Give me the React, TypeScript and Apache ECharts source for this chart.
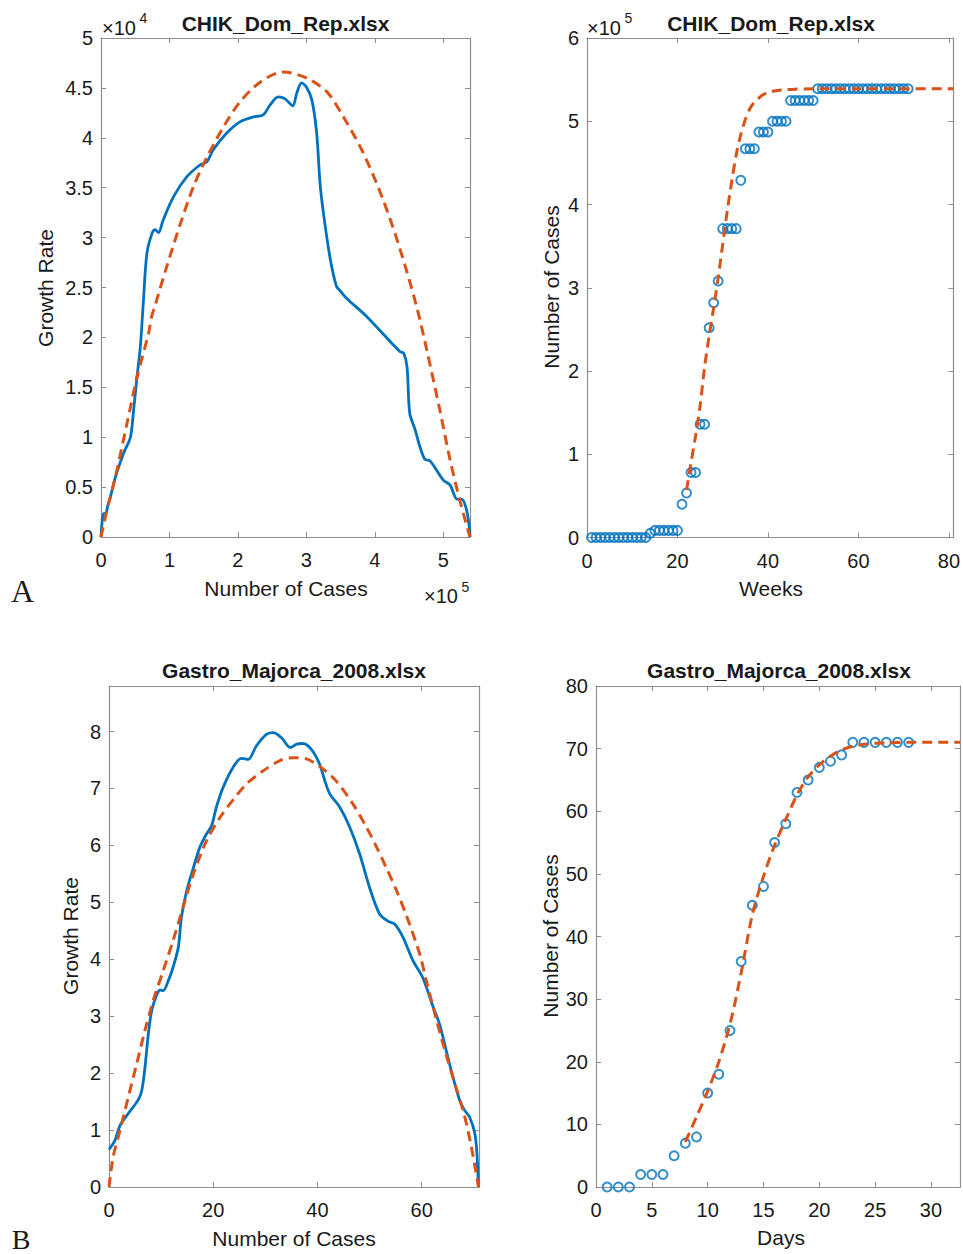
import React, { useEffect, useRef } from 'react';
import * as echarts from 'echarts';

// ---- Panel A (left): growth rate vs cumulative cases, CHIK Dominican Republic ----
const chikObsCases = [0, 2000, 4000, 7500, 10000, 13600, 21000, 33000, 43000, 47600, 52500, 57400, 62000, 67000, 74400, 79000, 84000, 91000, 106000, 125500, 145000, 154700, 164000, 184000, 203000, 223000, 237000, 247000, 259000, 269000, 280000, 286000, 293000, 300000, 308000, 315000, 320000, 325000, 335000, 344000, 349000, 359000, 388000, 437000, 442000, 447000, 451000, 459000, 466000, 473000, 481000, 500000, 510000, 520000, 527000, 534000, 538000, 539000];
const chikObsRate = [0, 1800, 2350, 2400, 3200, 4000, 6000, 8400, 10000, 12700, 16000, 19000, 23700, 28400, 30400, 30800, 30500, 31800, 34100, 36100, 37300, 37600, 38800, 40500, 41600, 42100, 42300, 43300, 44100, 43900, 43200, 44500, 45500, 45100, 43800, 40500, 35400, 32400, 27800, 25100, 24700, 23900, 22100, 18550, 18450, 17050, 12400, 10700, 9000, 7800, 7600, 5700, 5200, 3800, 3800, 2700, 1000, 0];
const chikFitCases = [0, 8800, 21000, 38000, 52500, 69500, 74000, 79000, 96000, 116000, 135000, 155000, 179000, 203000, 233000, 266000, 300000, 330000, 354000, 383000, 412000, 437000, 461000, 476000, 495000, 510000, 524000, 539000];
const chikFitRate = [0, 2700, 6000, 11400, 16000, 20400, 22100, 23200, 27100, 31400, 35100, 38100, 41100, 43600, 45600, 46600, 46000, 44600, 42100, 38500, 33800, 28800, 23100, 18700, 12700, 7700, 3700, 0];

// ---- Panel A (right): cumulative cases by week ----
const chikWeeks = [1, 2, 3, 4, 5, 6, 7, 8, 9, 10, 11, 12, 13, 14, 15, 16, 17, 18, 19, 20, 21, 22, 23, 24, 25, 26, 27, 28, 29, 30, 31, 32, 33, 34, 35, 36, 37, 38, 39, 40, 41, 42, 43, 44, 45, 46, 47, 48, 49, 50, 51, 52, 53, 54, 55, 56, 57, 58, 59, 60, 61, 62, 63, 64, 65, 66, 67, 68, 69, 70, 71];
const chikWeeklyCases = [0, 0, 0, 0, 0, 0, 0, 0, 0, 0, 0, 0, 0, 5000, 8500, 8500, 8500, 8500, 8500, 8500, 40000, 53500, 78000, 78000, 136000, 136000, 252000, 282000, 308000, 371000, 371000, 371000, 371000, 429000, 467000, 467000, 467000, 487000, 487000, 487000, 500000, 500000, 500000, 500000, 525000, 525000, 525000, 525000, 525000, 525000, 539000, 539000, 539000, 539000, 539000, 539000, 539000, 539000, 539000, 539000, 539000, 539000, 539000, 539000, 539000, 539000, 539000, 539000, 539000, 539000, 539000];
const chikFitWeeks = [22, 23, 24, 25, 26, 27, 28, 29, 30, 31, 32, 33, 34, 35, 36, 37, 38, 39, 40, 41, 42, 44, 46, 50, 60, 70, 81];
const chikFitWeekly = [57000, 90000, 122000, 158000, 205000, 242000, 276000, 312000, 352000, 392000, 428000, 460000, 484000, 502000, 515000, 523000, 528000, 532000, 535000, 536000, 537000, 538000, 538500, 539000, 539000, 539000, 539000];

// ---- Panel B (left): growth rate vs cumulative cases, Gastro Majorca 2008 ----
const gastroObsCases = [0, 1.15, 2.1, 3.7, 5.6, 6.3, 6.9, 7.55, 8.2, 9.1, 9.8, 10.4, 11.4, 12.3, 13.3, 13.9, 14.9, 16.2, 17.4, 18.7, 19.7, 20.6, 21.9, 23.8, 25.4, 26.7, 28.3, 30.2, 31.5, 33.1, 34.8, 36.0, 37.2, 38.8, 40.4, 41.4, 42.4, 44.3, 46.2, 48.1, 50.0, 51.9, 53.5, 54.8, 56.4, 58.3, 60.2, 62.2, 63.4, 64.7, 66.0, 67.3, 68.2, 69.2, 70.2, 70.6, 70.9];
const gastroObsRate = [0.66, 0.82, 1.08, 1.29, 1.53, 1.70, 2.1, 2.69, 3.1, 3.36, 3.46, 3.45, 3.63, 3.86, 4.21, 4.74, 5.2, 5.61, 5.96, 6.2, 6.35, 6.67, 7.02, 7.37, 7.53, 7.51, 7.75, 7.95, 7.98, 7.89, 7.72, 7.78, 7.79, 7.69, 7.43, 7.14, 6.90, 6.67, 6.32, 5.85, 5.26, 4.80, 4.67, 4.62, 4.39, 3.98, 3.68, 3.16, 2.87, 2.40, 1.93, 1.52, 1.35, 1.23, 0.94, 0.59, 0];
const gastroFitCases = [0, 0.8, 2.1, 3.7, 5.3, 6.9, 8.5, 10.4, 12.3, 14.2, 16.2, 18.7, 21.3, 23.8, 26.4, 29.6, 32.8, 35.3, 37.9, 41.1, 43.7, 46.8, 49.4, 51.3, 53.2, 55.2, 57.1, 59.6, 60.9, 62.8, 64.7, 66.7, 68.2, 69.5, 70.9];
const gastroFitRate = [0, 0.53, 0.99, 1.58, 2.16, 2.75, 3.28, 3.80, 4.33, 4.91, 5.50, 6.08, 6.49, 6.80, 7.08, 7.31, 7.49, 7.54, 7.52, 7.34, 7.12, 6.73, 6.32, 5.98, 5.61, 5.20, 4.76, 4.10, 3.62, 2.95, 2.32, 1.72, 1.26, 0.72, 0];

// ---- Panel B (right): cumulative cases by day ----
const gastroDays = [1, 2, 3, 4, 5, 6, 7, 8, 9, 10, 11, 12, 13, 14, 15, 16, 17, 18, 19, 20, 21, 22, 23, 24, 25, 26, 27, 28];
const gastroDailyCases = [0, 0, 0, 2, 2, 2, 5, 7, 8, 15, 18, 25, 36, 45, 48, 55, 58, 63, 65, 67, 68, 69, 71, 71, 71, 71, 71, 71];
const gastroFitDays = [8, 9, 10, 11, 12, 13, 14, 15, 16, 17, 18, 19, 20, 21, 22, 23, 24, 25, 26, 28, 32.6];
const gastroFitDaily = [7.2, 11.2, 15.3, 20.0, 26.0, 34.2, 43.5, 49.6, 54.6, 58.7, 62.6, 65.5, 67.4, 68.8, 69.8, 70.4, 70.7, 70.85, 70.9, 71, 71];

const zip = (xs: number[], ys: number[]) => xs.map((x, i) => [x, ys[i]]);

const AX = '#8f8f8f';
const TXT = '#1a1a1a';
const FONT = "'Liberation Sans', Arial, Helvetica, sans-serif";
const SERIF = "'Liberation Serif', 'Times New Roman', serif";
const BLUE = '#0072BD';
const RED = '#D95319';

export default function App() {
  const ref = useRef<HTMLDivElement>(null);

  useEffect(() => {
    if (!ref.current) return;
    const chart = echarts.init(ref.current, undefined, { renderer: 'svg' });

    const grids = [
      { left: 101, top: 38, width: 369, height: 499 },
      { left: 587, top: 38, width: 368, height: 499.5 },
      { left: 109, top: 686, width: 370, height: 501 },
      { left: 596, top: 686, width: 366, height: 501 },
    ];

    const fmt = (interval: number, scale: number) => (v: number) => {
      const k = v / interval;
      if (Math.abs(k - Math.round(k)) > 1e-6) return '';
      return String(Math.round((v / scale) * 1000) / 1000);
    };

    const mkAxes = (g: number, min: number, max: number, interval: number, scale: number, isX: boolean) => {
      const base: any = {
        type: 'value',
        gridIndex: g,
        min,
        max,
        interval,
        axisLine: { show: true, onZero: false, lineStyle: { color: AX, width: 1.2 } },
        axisTick: { show: true, inside: true, length: 5, lineStyle: { color: AX, width: 1 } },
        splitLine: { show: false },
      };
      const main = {
        ...base,
        position: isX ? 'bottom' : 'left',
        axisLabel: {
          show: true,
          color: TXT,
          fontSize: 20,
          fontFamily: FONT,
          margin: isX ? 13 : 8,
          formatter: fmt(interval, scale),
        },
      };
      const mirror = {
        ...base,
        position: isX ? 'top' : 'right',
        axisLabel: { show: false },
      };
      return [main, mirror];
    };

    const xAxis = [
      ...mkAxes(0, 0, 539000, 100000, 100000, true),
      ...mkAxes(1, 0, 81, 20, 1, true),
      ...mkAxes(2, 0, 71, 20, 1, true),
      ...mkAxes(3, 0, 32.6, 5, 1, true),
    ];
    const yAxis = [
      ...mkAxes(0, 0, 50000, 5000, 10000, false),
      ...mkAxes(1, 0, 600000, 100000, 100000, false),
      ...mkAxes(2, 0, 8.8, 1, 1, false),
      ...mkAxes(3, 0, 80, 10, 1, false),
    ];

    const blueLine = (g: number, data: number[][]) => ({
      type: 'line',
      xAxisIndex: g * 2,
      yAxisIndex: g * 2,
      data,
      showSymbol: false,
      smooth: 0.3,
      lineStyle: { color: BLUE, width: 2.8 },
      z: 2,
    });
    const redDash = (g: number, data: number[][]) => ({
      type: 'line',
      xAxisIndex: g * 2,
      yAxisIndex: g * 2,
      data,
      showSymbol: false,
      smooth: 0.3,
      lineStyle: { color: RED, width: 3, type: [10, 6] },
      z: 4,
    });
    const circles = (g: number, data: number[][]) => ({
      type: 'scatter',
      xAxisIndex: g * 2,
      yAxisIndex: g * 2,
      data,
      symbol: 'circle',
      symbolSize: 9,
      itemStyle: { color: 'rgba(0,0,0,0)', borderColor: BLUE, borderWidth: 2 },
      z: 3,
    });

    const txt = (text: string, x: number, y: number, opts: any = {}) => ({
      type: 'text',
      x,
      y,
      rotation: opts.rotation || 0,
      style: {
        text,
        fill: opts.fill || TXT,
        font: `${opts.weight || 'normal'} ${opts.size || 21}px ${opts.family || FONT}`,
        textAlign: opts.align || 'center',
        textVerticalAlign: 'middle',
      },
      silent: true,
    });

    const graphic = [
      // titles
      txt('CHIK_Dom_Rep.xlsx', 285.5, 23, { weight: 'bold', size: 21 }),
      txt('CHIK_Dom_Rep.xlsx', 771, 23, { weight: 'bold', size: 21 }),
      txt('Gastro_Majorca_2008.xlsx', 294, 670, { weight: 'bold', size: 21 }),
      txt('Gastro_Majorca_2008.xlsx', 779, 670, { weight: 'bold', size: 21 }),
      // axis names
      txt('Number of Cases', 286, 588, {}),
      txt('Weeks', 771, 588, {}),
      txt('Number of Cases', 294, 1238, {}),
      txt('Days', 781, 1237, {}),
      txt('Growth Rate', 45, 288, { rotation: Math.PI / 2 }),
      txt('Number of Cases', 551, 287, { rotation: Math.PI / 2 }),
      txt('Growth Rate', 70, 936, { rotation: Math.PI / 2 }),
      txt('Number of Cases', 550, 936, { rotation: Math.PI / 2 }),
      // exponent labels
      txt('×10', 102, 27.5, { size: 20, align: 'left' }),
      txt('4', 139.5, 18, { size: 14, align: 'left' }),
      txt('×10', 587, 27.5, { size: 20, align: 'left' }),
      txt('5', 624.5, 18, { size: 14, align: 'left' }),
      txt('×10', 424, 596, { size: 20, align: 'left' }),
      txt('5', 461.5, 586.5, { size: 14, align: 'left' }),
      // panel letters
      txt('A', 22.5, 591, { size: 32, family: SERIF }),
      txt('B', 21, 1239, { size: 28, family: SERIF }),
    ];

    chart.setOption({
      animation: false,
      backgroundColor: '#ffffff',
      grid: grids,
      xAxis,
      yAxis,
      graphic,
      series: [
        blueLine(0, zip(chikObsCases, chikObsRate)),
        redDash(0, zip(chikFitCases, chikFitRate)),
        circles(1, zip(chikWeeks, chikWeeklyCases)),
        redDash(1, zip(chikFitWeeks, chikFitWeekly)),
        blueLine(2, zip(gastroObsCases, gastroObsRate)),
        redDash(2, zip(gastroFitCases, gastroFitRate)),
        circles(3, zip(gastroDays, gastroDailyCases)),
        redDash(3, zip(gastroFitDays, gastroFitDaily)),
      ],
    });

    return () => chart.dispose();
  }, []);

  return (
    <div
      ref={ref}
      style={{ position: 'absolute', left: 0, top: 0, width: 963, height: 1254, background: '#fff' }}
    />
  );
}
